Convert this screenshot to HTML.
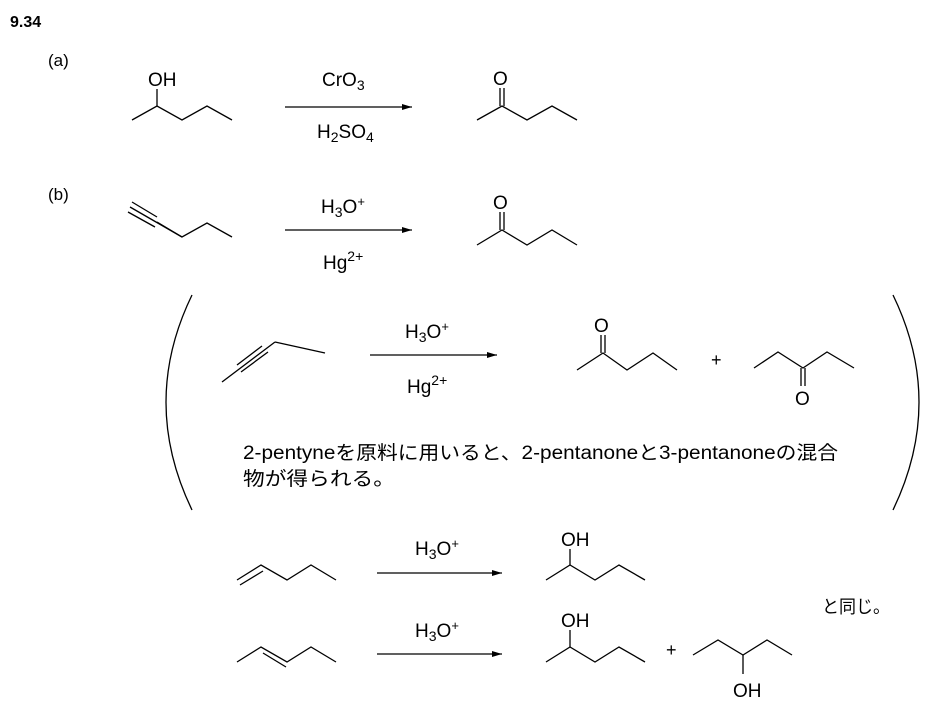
<!DOCTYPE html>
<html><head><meta charset="utf-8"><style>
body{margin:0;background:#fff}
svg{display:block}
text{font-family:"Liberation Sans","Noto Sans CJK JP",sans-serif;fill:#000}
</style></head><body>
<svg width="925" height="703" viewBox="0 0 925 703" xmlns="http://www.w3.org/2000/svg">
<defs><marker id="ah" markerWidth="10" markerHeight="6" refX="10" refY="3" orient="auto" markerUnits="userSpaceOnUse"><path d="M0,0 L10,3 L0,6 z" fill="#000"/></marker></defs>
<g stroke="#000" stroke-width="1.3" fill="none">
<!-- (a) -->
<polyline points="132,120 157,106 182,120 207,106 232,120"/>
<line x1="157" y1="106" x2="157" y2="89"/>
<line x1="285" y1="107" x2="412" y2="107" marker-end="url(#ah)"/>
<polyline points="477,120 502,106 527,120 552,106 577,120"/>
<line x1="500" y1="106" x2="500" y2="88"/><line x1="504" y1="106" x2="504" y2="88"/>
<!-- (b) -->
<polyline points="157,222 182,237 207,223 232,237"/>
<line x1="130" y1="207" x2="182" y2="237"/>
<line x1="132" y1="202" x2="157" y2="217"/>
<line x1="128" y1="212" x2="155" y2="227"/>
<line x1="285" y1="230" x2="412" y2="230" marker-end="url(#ah)"/>
<polyline points="477,245 502,230 527,245 552,230 577,245"/>
<line x1="500" y1="230" x2="500" y2="212"/><line x1="504" y1="230" x2="504" y2="212"/>
<!-- parentheses -->
<path d="M192,295 Q140,402 192,510"/>
<path d="M893,295 Q945,402 893,510"/>
<!-- 2-pentyne -->
<line x1="222" y1="382" x2="275" y2="342"/>
<line x1="241" y1="372" x2="268" y2="352"/>
<line x1="237" y1="365" x2="262" y2="346"/>
<line x1="275" y1="342" x2="325" y2="353"/>
<line x1="370" y1="355" x2="497" y2="355" marker-end="url(#ah)"/>
<polyline points="577,370 603,353 627,370 653,353 677,370"/>
<line x1="601" y1="353" x2="601" y2="335"/><line x1="605" y1="353" x2="605" y2="335"/>
<polyline points="754,368 778,352 803,368 827,352 854,368"/>
<line x1="801" y1="368" x2="801" y2="386"/><line x1="805" y1="368" x2="805" y2="386"/>
<!-- bottom rows -->
<polyline points="237,580 261,565 287,580 311,565 336,580"/>
<line x1="240" y1="585" x2="263" y2="571"/>
<line x1="377" y1="573" x2="502" y2="573" marker-end="url(#ah)"/>
<polyline points="546,580 570,565 595,580 619,565 645,580"/>
<line x1="570" y1="565" x2="570" y2="549"/>
<polyline points="237,662 261,647 287,662 311,647 336,662"/>
<line x1="263" y1="653" x2="286" y2="667"/>
<line x1="377" y1="654" x2="502" y2="654" marker-end="url(#ah)"/>
<polyline points="546,662 570,647 595,662 619,647 645,662"/>
<line x1="570" y1="647" x2="570" y2="630"/>
<polyline points="693,655 718,640 743,655 767,640 792,655"/>
<line x1="743" y1="655" x2="743" y2="674"/>
</g>
<text x="10" y="27" font-size="16" font-weight="bold">9.34</text>
<text x="48" y="66" font-size="17">(a)</text>
<text x="48" y="200" font-size="17">(b)</text>
<text x="148" y="86" font-size="19">OH</text>
<text x="322" y="86" font-size="19">CrO<tspan font-size="14" dy="4">3</tspan></text>
<text x="317" y="138" font-size="19">H<tspan font-size="14" dy="4">2</tspan><tspan dy="-4">SO</tspan><tspan font-size="14" dy="4">4</tspan></text>
<text x="493" y="85" font-size="19">O</text>
<text x="321" y="213" font-size="19">H<tspan font-size="14" dy="4">3</tspan><tspan dy="-4">O</tspan><tspan font-size="13" dy="-7">+</tspan></text>
<text x="323" y="269" font-size="19">Hg<tspan font-size="14" dy="-8">2+</tspan></text>
<text x="493" y="209" font-size="19">O</text>
<text x="405" y="338" font-size="19">H<tspan font-size="14" dy="4">3</tspan><tspan dy="-4">O</tspan><tspan font-size="13" dy="-7">+</tspan></text>
<text x="407" y="393" font-size="19">Hg<tspan font-size="14" dy="-8">2+</tspan></text>
<text x="594" y="332" font-size="19">O</text>
<text x="711" y="366" font-size="18">+</text>
<text x="795" y="405" font-size="19">O</text>
<text x="243" y="459" font-size="19" textLength="595" lengthAdjust="spacingAndGlyphs">2-pentyneを原料に用いると、2-pentanoneと3-pentanoneの混合</text>
<text x="243" y="485" font-size="19" textLength="152" lengthAdjust="spacingAndGlyphs">物が得られる。</text>
<text x="415" y="555" font-size="19">H<tspan font-size="14" dy="4">3</tspan><tspan dy="-4">O</tspan><tspan font-size="13" dy="-7">+</tspan></text>
<text x="561" y="546" font-size="19">OH</text>
<text x="415" y="637" font-size="19">H<tspan font-size="14" dy="4">3</tspan><tspan dy="-4">O</tspan><tspan font-size="13" dy="-7">+</tspan></text>
<text x="561" y="627" font-size="19">OH</text>
<text x="666" y="656" font-size="18">+</text>
<text x="733" y="697" font-size="19">OH</text>
<text x="822" y="613" font-size="18" textLength="68" lengthAdjust="spacingAndGlyphs">と同じ。</text>
</svg>
</body></html>
